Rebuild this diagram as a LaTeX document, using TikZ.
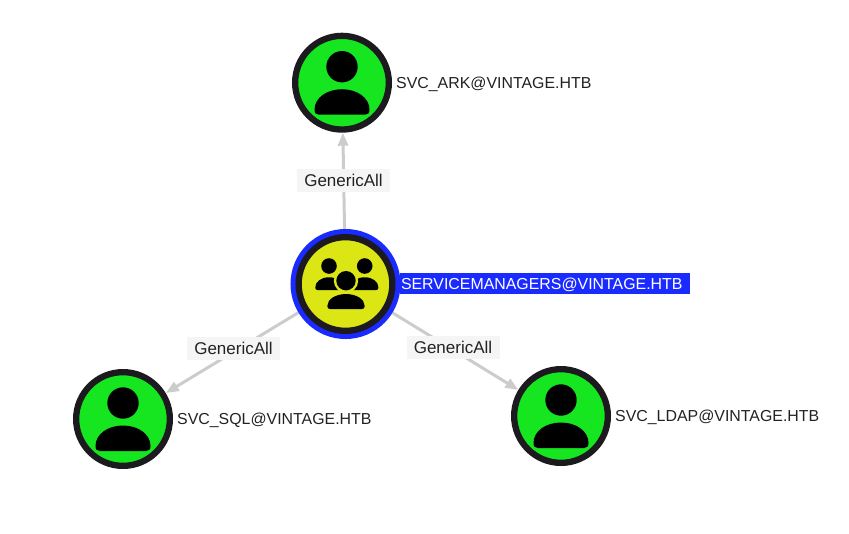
\documentclass[tikz,border=0pt]{standalone}
\usepackage{fontspec}
\setmainfont{Liberation Sans}
\usetikzlibrary{arrows.meta,positioning,backgrounds}
\definecolor{ringblack}{HTML}{1C1A1F}
\definecolor{usergreen}{HTML}{15E620}
\definecolor{groupyellow}{HTML}{DCE614}
\definecolor{selblue}{HTML}{1A2BFF}
\definecolor{edgegray}{HTML}{CCCCCC}
\definecolor{tagbg}{HTML}{F5F5F5}
\definecolor{inktext}{HTML}{222222}
\newcommand{\userbody}[1]{\fill[black,#1] (-27.5,27) .. controls (-27.5,15) and (-15,6.5) .. (0,6.5) .. controls (15,6.5) and (27.5,15) .. (27.5,27) .. controls (27.5,30.5) and (26,32) .. (23,32) -- (-23,32) .. controls (-26,32) and (-27.5,30.5) .. (-27.5,27) -- cycle;}
\tikzset{
  entity/.style={circle,draw=ringblack,line width=6.3pt,minimum size=93.7pt,inner sep=0pt},
  nodetext/.style={inner sep=0pt,text=inktext,text height=11.5pt,text depth=0pt,font=\fontsize{15.9pt}{18pt}\selectfont},
  edgetag/.style={fill=tagbg,text=inktext,inner sep=0pt,minimum width=93pt,minimum height=23pt,font=\fontsize{17pt}{20pt}\selectfont},
  edgeline/.style={draw=edgegray,line width=3pt,-{Triangle[length=13pt,width=10pt]}}
}
\begin{document}
\begin{tikzpicture}[x=1pt,y=-1pt]
  \useasboundingbox (0,0) rectangle (849,533);

  \node[entity,fill=usergreen] (svcark) at (342,82.7) {};
  \node[entity,fill=usergreen] (svcsql) at (123,419) {};
  \node[entity,fill=usergreen] (svcldap) at (561,416) {};
  \node[entity,fill=groupyellow,preaction={draw=selblue,line width=16.3pt}] (svcmgr) at (345.5,284) {};

  \foreach \svc in {svcark,svcsql,svcldap} {
    \begin{scope}[shift={(\svc.center)}]
      \fill[black] (0,-16) circle (15.7);
      \userbody{}
    \end{scope}
  }

  % group icon
  \begin{scope}[shift={(svcmgr.center)}]
    \foreach \dx in {-16.5,19.2} {
      \fill[black] (\dx,-18) circle (7.8);
      \userbody{shift={(\dx,-10)},scale=.5}
    }
    \fill[groupyellow] (0.5,-3.3) circle (12.2);
    \fill[black] (0.5,-3.3) circle (9.7);
    \userbody{shift={(0.5,6.2)},xscale=.68,yscale=.59}
  \end{scope}

  \node[nodetext,right=4pt of svcark] (arktext) {SVC\_ARK@VINTAGE.HTB};
  \node[nodetext,right=4pt of svcsql] (sqltext) {SVC\_SQL@VINTAGE.HTB};
  \node[nodetext,right=4pt of svcldap] (ldaptext) {SVC\_LDAP@VINTAGE.HTB};
  \node[fill=selblue,text=white,inner sep=0pt,inner xsep=1.5pt,text width=287pt,minimum height=21pt,align=left,
    text height=11.5pt,text depth=0pt,font=\fontsize{15.9pt}{18pt}\selectfont,anchor=west] (mgrtext) at (399.3,283.8) {SERVICEMANAGERS@VINTAGE.HTB};

  \node[edgetag] (tagark) at (343.5,180.5) {GenericAll};
  \node[edgetag] (tagsql) at (233.5,348.5) {GenericAll};
  \node[edgetag] (tagldap) at (453,347.5) {GenericAll};

  \begin{scope}[on background layer]
    \draw[edgeline] (svcmgr) -- (svcark);
    \draw[edgeline] (svcmgr) -- (svcsql);
    \draw[edgeline] (svcmgr) -- (svcldap);
  \end{scope}
\end{tikzpicture}
\end{document}
